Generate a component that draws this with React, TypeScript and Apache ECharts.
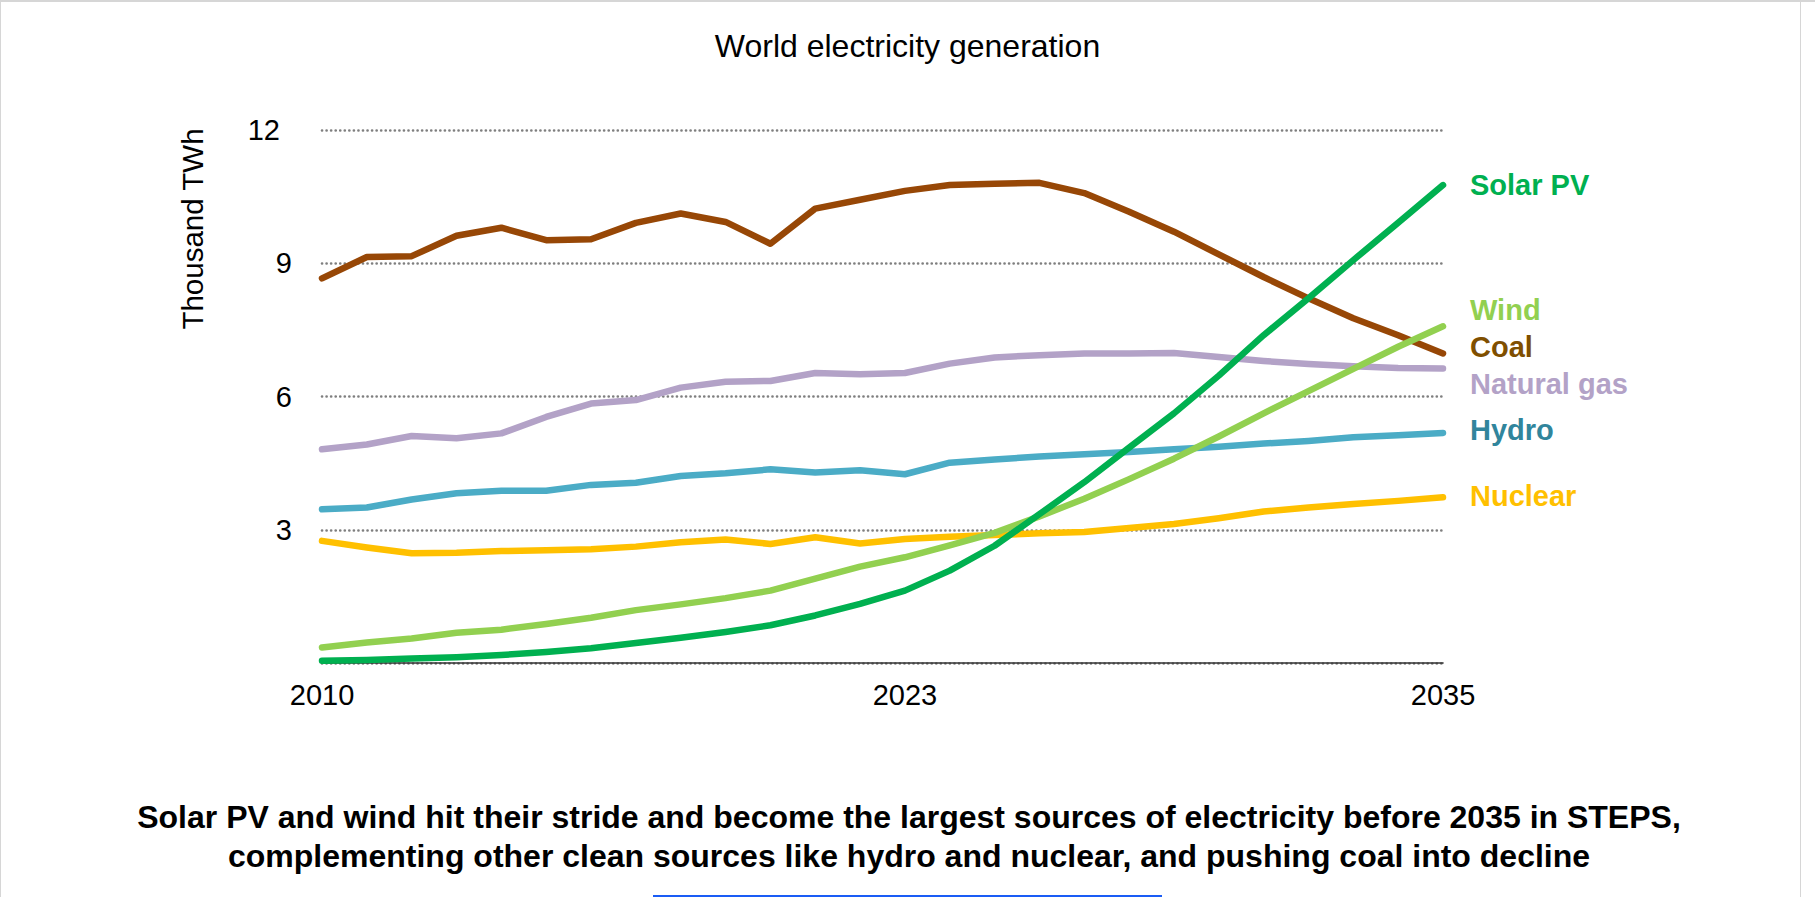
import React, { useEffect, useRef } from "react";
import * as echarts from "echarts";

const years: string[] = [
  "2010","2011","2012","2013","2014","2015","2016","2017","2018","2019","2020","2021","2022",
  "2023","2024","2025","2026","2027","2028","2029","2030","2031","2032","2033","2034","2035",
];
const shownYearLabels: string[] = ["2010", "2023", "2035"];
const yTicks: number[] = [0, 3, 6, 9, 12];

const coal: number[] = [8.66, 9.14, 9.16, 9.62, 9.8, 9.52, 9.54, 9.91, 10.12, 9.93, 9.44, 10.23, 10.43, 10.63, 10.76, 10.79, 10.81, 10.58, 10.16, 9.71, 9.2, 8.69, 8.21, 7.76, 7.38, 6.97];
const naturalGas: number[] = [4.81, 4.92, 5.11, 5.06, 5.17, 5.54, 5.84, 5.92, 6.2, 6.33, 6.35, 6.53, 6.5, 6.53, 6.74, 6.88, 6.93, 6.97, 6.97, 6.98, 6.89, 6.8, 6.73, 6.68, 6.64, 6.63];
const hydro: number[] = [3.46, 3.5, 3.68, 3.82, 3.88, 3.88, 4.01, 4.06, 4.21, 4.27, 4.36, 4.29, 4.34, 4.25, 4.51, 4.58, 4.65, 4.7, 4.75, 4.81, 4.87, 4.94, 5.0, 5.08, 5.13, 5.18];
const nuclear: number[] = [2.75, 2.6, 2.47, 2.48, 2.52, 2.54, 2.56, 2.62, 2.72, 2.78, 2.68, 2.83, 2.69, 2.79, 2.84, 2.88, 2.92, 2.95, 3.04, 3.13, 3.26, 3.41, 3.5, 3.58, 3.65, 3.73];
const wind: number[] = [0.35, 0.46, 0.55, 0.68, 0.75, 0.88, 1.02, 1.19, 1.32, 1.46, 1.63, 1.9, 2.17, 2.38, 2.65, 2.93, 3.3, 3.7, 4.14, 4.6, 5.1, 5.62, 6.12, 6.62, 7.12, 7.58];
const solarPV: number[] = [0.05, 0.07, 0.1, 0.13, 0.18, 0.25, 0.33, 0.45, 0.57, 0.7, 0.85, 1.07, 1.33, 1.63, 2.08, 2.64, 3.35, 4.07, 4.85, 5.62, 6.47, 7.38, 8.21, 9.07, 9.91, 10.76];

const titleText = "World electricity generation";
const yAxisTitle = "Thousand TWh";
const captionLines: string[] = [
  "Solar PV and wind hit their stride and become the largest sources of electricity before 2035 in STEPS,",
  "complementing other clean sources like hydro and nuclear, and pushing coal into decline",
];

const FONT = "'Liberation Sans', Arial, Helvetica, sans-serif";

type SeriesDef = {
  name: string;
  data: number[];
  color: string;
  labelColor: string;
  labelDy: number;
};

const seriesDefs: SeriesDef[] = [
  { name: "Coal", data: coal, color: "#974706", labelColor: "#7f4f00", labelDy: -6 },
  { name: "Natural gas", data: naturalGas, color: "#b3a2c7", labelColor: "#b3a2c7", labelDy: 15 },
  { name: "Hydro", data: hydro, color: "#4bacc6", labelColor: "#31859c", labelDy: -3 },
  { name: "Nuclear", data: nuclear, color: "#ffc000", labelColor: "#ffc000", labelDy: -1 },
  { name: "Wind", data: wind, color: "#92d050", labelColor: "#92d050", labelDy: -16 },
  { name: "Solar PV", data: solarPV, color: "#00b050", labelColor: "#00b050", labelDy: 0 },
];

export default function App() {
  const ref = useRef<HTMLDivElement>(null);

  useEffect(() => {
    if (!ref.current) return;
    const chart = echarts.init(ref.current, undefined, { renderer: "svg" });

    const option: any = {
      animation: false,
      backgroundColor: "#ffffff",
      title: {
        text: titleText,
        left: "center",
        top: 25,
        textStyle: { fontFamily: FONT, fontSize: 32, fontWeight: "normal", color: "#000" },
      },
      grid: { left: 322, right: 372, top: 130, bottom: 234, containLabel: false },
      xAxis: {
        type: "category",
        data: years,
        boundaryGap: false,
        axisLine: { show: true, lineStyle: { color: "#333333", width: 1.6 } },
        axisTick: { show: false },
        splitLine: { show: false },
        axisLabel: {
          interval: (_i: number, v: string) => shownYearLabels.includes(v),
          margin: 17,
          fontFamily: FONT,
          fontSize: 29,
          color: "#000",
        },
      },
      yAxis: {
        type: "value",
        min: yTicks[0],
        max: yTicks[yTicks.length - 1],
        interval: 3,
        axisLine: { show: false },
        axisTick: { show: false },
        splitLine: {
          show: true,
          lineStyle: { color: "#7f7f7f", width: 2.6, type: [0.1, 4.45], cap: "round" },
        },
        axisLabel: {
          margin: 30,
          fontFamily: FONT,
          fontSize: 29,
          color: "#000",
          formatter: (v: number) => (v === 0 ? "" : v === 12 ? "{s|12}" : String(v)),
          rich: {
            s: { padding: [0, 12, 0, 0], fontFamily: FONT, fontSize: 29, color: "#000" },
          },
        },
      },
      series: seriesDefs.map((s) => ({
        name: s.name,
        type: "line",
        data: s.data,
        symbol: "none",
        smooth: false,
        lineStyle: { color: s.color, width: 6.5, cap: "round", join: "round" },
        itemStyle: { color: s.color },
        endLabel: {
          show: true,
          formatter: s.name,
          distance: 27,
          offset: [0, s.labelDy],
          color: s.labelColor,
          fontFamily: FONT,
          fontSize: 29,
          fontWeight: "bold",
        },
        emphasis: { disabled: true },
      })),
      graphic: [
        { type: "rect", shape: { x: 0, y: 0, width: 1815, height: 2 }, style: { fill: "#d6d6d6" }, silent: true },
        { type: "line", shape: { x1: 0.5, y1: 0, x2: 0.5, y2: 897 }, style: { stroke: "#d6d6d6", lineWidth: 1 }, silent: true },
        { type: "line", shape: { x1: 1800.5, y1: 0, x2: 1800.5, y2: 897 }, style: { stroke: "#d6d6d6", lineWidth: 1 }, silent: true },
        {
          type: "text",
          x: 192,
          y: 229,
          rotation: Math.PI / 2,
          style: {
            text: yAxisTitle,
            align: "center",
            verticalAlign: "middle",
            fontFamily: FONT,
            fontSize: 29.5,
            fill: "#000",
          },
          silent: true,
        },
        {
          type: "text",
          x: 909,
          y: 836,
          style: {
            text: captionLines.join("\n"),
            align: "center",
            verticalAlign: "middle",
            fontFamily: FONT,
            fontSize: 32,
            fontWeight: "bold",
            lineHeight: 39,
            fill: "#000",
          },
          silent: true,
        },
        { type: "rect", shape: { x: 653, y: 895, width: 509, height: 4 }, style: { fill: "#1a5cf5" }, silent: true },
      ],
    };

    chart.setOption(option);
    return () => chart.dispose();
  }, []);

  return (
    <div
      ref={ref}
      style={{ position: "fixed", left: 0, top: 0, width: 1815, height: 897, background: "#fff" }}
    />
  );
}
